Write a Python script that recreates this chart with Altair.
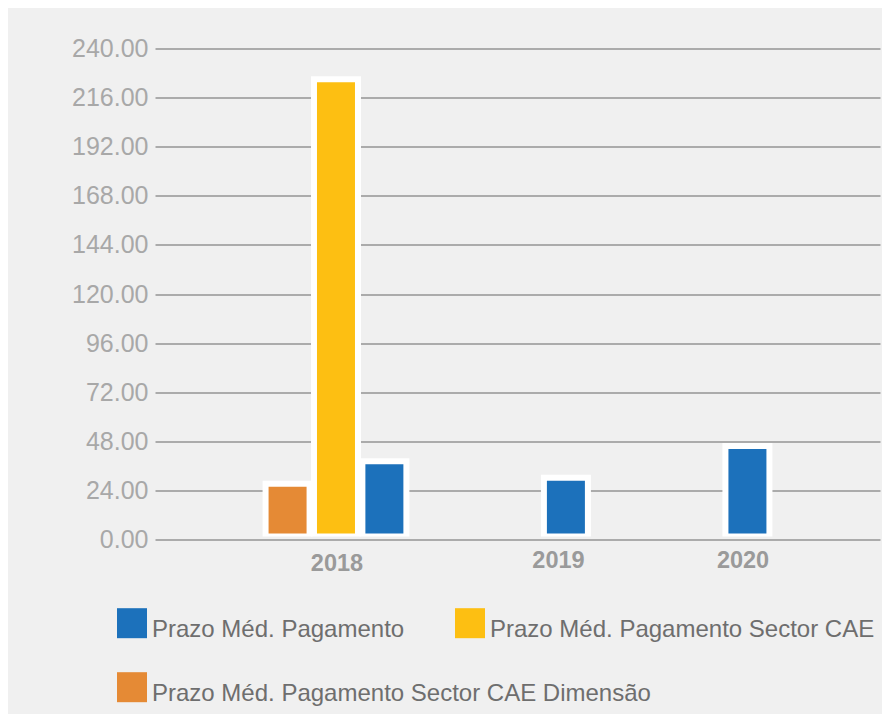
import altair as alt
import pandas as pd

years = ["2018", "2018", "2018", "2019", "2020"]
series = [
    "Prazo Méd. Pagamento Sector CAE Dimensão",
    "Prazo Méd. Pagamento Sector CAE",
    "Prazo Méd. Pagamento",
    "Prazo Méd. Pagamento",
    "Prazo Méd. Pagamento",
]
values = [25.8, 223.5, 36.8, 28.7, 44.2]

legend_order = [
    "Prazo Méd. Pagamento",
    "Prazo Méd. Pagamento Sector CAE",
    "Prazo Méd. Pagamento Sector CAE Dimensão",
]
bar_order = [
    "Prazo Méd. Pagamento Sector CAE Dimensão",
    "Prazo Méd. Pagamento Sector CAE",
    "Prazo Méd. Pagamento",
]
colors = ["#1c71bb", "#fdbf12", "#e58a35"]
y_ticks = [0, 24, 48, 72, 96, 120, 144, 168, 192, 216, 240]

df = pd.DataFrame({"year": years, "serie": series, "value": values})

x_enc = alt.X(
    "year:N",
    sort=["2018", "2019", "2020"],
    scale=alt.Scale(paddingInner=0.2, paddingOuter=0.597),
    axis=alt.Axis(
        title=None,
        labelAngle=0,
        domain=False,
        ticks=False,
        grid=False,
        labelFont="Liberation Sans",
        labelFontSize=23.5,
        labelFontWeight="bold",
        labelColor="#9a9a9a",
        labelPadding={"condition": {"test": "datum.value == '2018'", "value": 12}, "value": 9},
        labelOffset={
            "condition": [
                {"test": "datum.value == '2019'", "value": 41},
                {"test": "datum.value == '2020'", "value": 44},
            ],
            "value": 1,
        },
    ),
)
xo_enc = alt.XOffset(
    "serie:N",
    sort=bar_order,
    scale=alt.Scale(domain=bar_order, paddingInner=0, paddingOuter=0),
)
y_enc = alt.Y(
    "value:Q",
    stack=None,
    scale=alt.Scale(domain=[0, 240], nice=False),
    axis=alt.Axis(
        title=None,
        values=y_ticks,
        format=".2f",
        domain=False,
        ticks=False,
        grid=True,
        gridColor="#ababab",
        gridWidth=2,
        labelFont="Liberation Sans",
        labelFontSize=25,
        labelColor="#a8a8a8",
        labelPadding=7,
    ),
)

# square symbol drawn a little above the label's centre line
square_up = "M-1,-1.42L1,-1.42L1,0.58L-1,0.58Z"


def legend(vals, ly):
    return alt.Legend(
        title=None,
        orient="none",
        legendX=-38,
        legendY=ly,
        direction="horizontal",
        values=vals,
        symbolType=square_up,
        symbolSize=900,
        symbolStrokeWidth=0,
        symbolOpacity=1,
        labelFont="Liberation Sans",
        labelFontSize=24,
        labelColor="#6e6e6e",
        labelOffset=5,
        labelLimit=800,
        columnPadding=50,
    )


base = alt.Chart(df).encode(x=x_enc, xOffset=xo_enc, y=y_enc, y2=alt.datum(0))

white = base.mark_bar(width=50, color="white", yOffset=-6, y2Offset=-3)

bars_main = (
    base.mark_bar(width=38, y2Offset=-6)
    .transform_filter(alt.FieldOneOfPredicate(field="serie", oneOf=legend_order[:2]))
    .encode(
        color=alt.Color(
            "serie:N",
            scale=alt.Scale(domain=legend_order, range=colors),
            legend=legend(legend_order[:2], 566),
        )
    )
)
bars_dim = (
    base.mark_bar(width=38, y2Offset=-6)
    .transform_filter(alt.FieldOneOfPredicate(field="serie", oneOf=legend_order[2:]))
    .encode(
        color=alt.Color(
            "serie:N",
            scale=alt.Scale(domain=legend_order, range=colors),
            legend=legend(legend_order[2:], 630),
        )
    )
)

chart = (
    alt.layer(white, bars_main, bars_dim)
    .resolve_scale(color="independent")
    .properties(
        width=725,
        height=491,
        autosize=alt.AutoSizeParams(type="none"),
        padding={"left": 147, "top": 40.5, "right": 2, "bottom": 174.5},
        background="#f0f0f0",
    )
    .configure_view(stroke=None)
)

chart.save("out.html", embed_options={"renderer": "svg", "actions": False})
